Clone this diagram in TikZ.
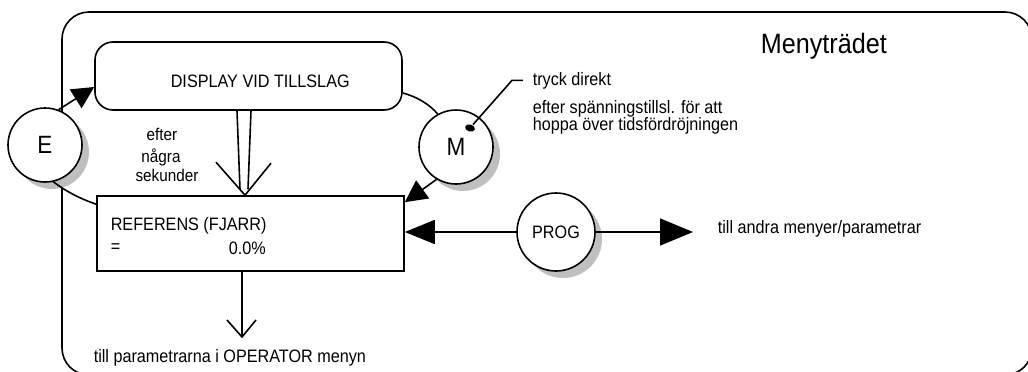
\documentclass[tikz,border=0pt]{standalone}
\usepackage{fontspec}
\setmainfont{Liberation Sans}[FakeStretch=0.9]
\usetikzlibrary{arrows.meta,shadows,shapes.geometric}
\begin{document}
\begin{tikzpicture}[x=1pt,y=-1pt,line width=1.6pt,
  circ/.style={circle,draw,fill=white,minimum size=74pt,inner sep=0pt,
    font=\fontsize{25}{28}\selectfont,
    drop shadow={shadow xshift=7pt,shadow yshift=-7pt,fill=black!25,opacity=1}},
  txt/.style={inner sep=0pt,font=\fontsize{18}{21}\selectfont,anchor=base west},
  ctxt/.style={inner sep=0pt,font=\fontsize{17}{20}\selectfont,anchor=base},
  boxst/.style={draw,fill=white,inner sep=0pt}]
\useasboundingbox (0,0) rectangle (1028,372);
\clip (0,0) rectangle (1028,372);
% outer frame
\draw[rounded corners=27pt] (62,12) rectangle (1032,375);
% boxes
\node[boxst,rounded corners=18pt,minimum width=307pt,minimum height=68pt] (D) at (248.5,76) {};
\node[boxst,minimum width=307pt,minimum height=75pt] (R) at (250.5,233.5) {};
% circles
\node[circ] (E) at (45,145) {E};
\node[circ] (M) at (456,147) {M};
\node[circ,minimum size=78pt,font=\fontsize{18}{21}\selectfont] (P) at (556,232) {PROG};
% texts
\node[txt] (t1) at (170,87) {DISPLAY VID TILLSLAG};
\node[txt,font=\fontsize{28}{32}\selectfont] (title) at (760,53) {Menyträdet};
\node[txt] (T) at (532,85) {tryck direkt};
\node[txt] (T2) at (532,113) {efter spänningstillsl. för att};
\node[txt] (T3) at (532,130) {hoppa över tidsfördröjningen};
\node[ctxt] (a1) at (162,140) {efter};
\node[ctxt] (a2) at (161,162) {några};
\node[ctxt] (a3) at (167,181) {sekunder};
\node[txt] (r1) at (110,230) {REFERENS (FJARR)};
\node[txt] (r2) at (110,252) {=};
\node[txt] (r3) at (228,254) {0.0\%};
\node[txt] (b1) at (93,362) {till parametrarna i OPERATOR menyn};
\node[txt] (p1) at (717,233) {till andra menyer/parametrar};
% leader with dot
\node[ellipse,fill,minimum width=10pt,minimum height=7pt,inner sep=0pt,rotate=-15] (dot) at (470,128) {};
\draw ([xshift=-9pt]T.west) -- ++(-11,0) -- (dot);
% connectors
\draw[-{Triangle[length=22pt,width=22pt]}] (E.69) -- ([yshift=-11pt]D.west);
\draw[-{Triangle[length=22pt,width=22pt]}] (M.239) -- ([yshift=-7pt]R.north east);
\draw[-{Triangle[length=30pt,width=24pt]}] (P.west) -- (R.east |- P.west);
\coordinate (Pend) at (693,230);
\draw[-{Triangle[length=33pt,width=27pt]}] (P.east) -- (P.east -| Pend);
\draw ([yshift=-17pt]D.east) .. controls (418,97) and (430,105) .. (M.119);
\draw (E.-77) .. controls (64,190) and (78,198) .. ([yshift=-9pt]R.north west);
% double arrow
\coordinate (dtip) at ([xshift=-5.5pt]R.north);
\draw ([xshift=-11.5pt]D.south) -- ([xshift=-10.5pt,yshift=6pt]R.north);
\draw ([xshift=2.5pt]D.south) -- ([xshift=-2.5pt,yshift=6pt]R.north);
\draw ([shift={(-29,-33)}]dtip) -- (dtip) -- ([shift={(26,-32)}]dtip);
% down arrow
\coordinate (btip) at (242,337);
\draw ([xshift=-8.5pt]R.south) -- (btip);
\draw ([shift={(-15,-17)}]btip) -- (btip) -- ([shift={(14,-17)}]btip);
\end{tikzpicture}
\end{document}
